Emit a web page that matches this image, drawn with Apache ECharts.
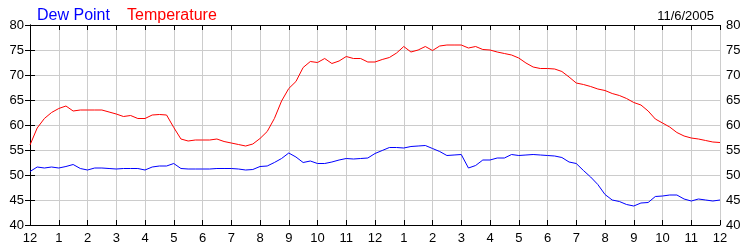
<!DOCTYPE html>
<html><head><meta charset="utf-8">
<script src="https://cdn.jsdelivr.net/npm/echarts@6/dist/echarts.min.js"></script>
<style>html,body{margin:0;padding:0;background:#fff}#c{width:750px;height:250px}</style>
</head><body><div id="c"></div>
<script>
// 15-minute samples from midnight to midnight (97 points)
const hourLabels = ['12','1','2','3','4','5','6','7','8','9','10','11','12','1','2','3','4','5','6','7','8','9','10','11','12'];
const temperature = [
  56.0,59.4,61.3,62.5,63.3,63.8,62.8,63.0,63.0,63.0,63.0,62.6,62.2,61.7,61.9,61.3,
  61.3,62.0,62.1,62.0,59.5,57.2,56.8,57.0,57.0,57.0,57.2,56.7,56.4,56.1,55.8,56.2,
  57.3,58.7,61.3,64.8,67.3,68.7,71.5,72.7,72.5,73.3,72.3,72.8,73.7,73.3,73.3,72.6,
  72.6,73.1,73.5,74.4,75.7,74.6,75.0,75.7,74.9,75.8,76.0,76.0,76.0,75.4,75.7,75.1,
  75.0,74.6,74.3,74.0,73.4,72.4,71.6,71.3,71.3,71.2,70.7,69.6,68.4,68.1,67.7,67.2,
  66.9,66.3,65.9,65.3,64.5,64.0,62.8,61.2,60.4,59.6,58.5,57.8,57.4,57.2,56.9,56.6,
  56.5
];
const dewPoint = [
  50.7,51.6,51.4,51.6,51.4,51.7,52.1,51.3,51.0,51.4,51.4,51.3,51.2,51.3,51.3,51.3,
  51.0,51.6,51.8,51.8,52.3,51.3,51.2,51.2,51.2,51.2,51.3,51.3,51.3,51.2,51.0,51.1,
  51.7,51.8,52.5,53.3,54.4,53.6,52.5,52.8,52.3,52.3,52.6,53.0,53.3,53.2,53.3,53.4,
  54.3,54.9,55.5,55.5,55.4,55.7,55.8,55.9,55.3,54.7,53.9,54.0,54.1,51.4,51.9,53.0,
  53.0,53.4,53.4,54.1,53.9,54.0,54.1,54.0,53.9,53.8,53.5,52.6,52.3,50.9,49.6,48.1,
  46.1,45.0,44.7,44.1,43.8,44.4,44.5,45.7,45.8,46.0,46.0,45.2,44.8,45.2,45.0,44.8,
  45.0
];
const dateText = '11/6/2005';

const FONT = 'Liberation Sans, Arial, sans-serif';
const chart = echarts.init(document.getElementById('c'), null, {renderer: 'canvas'});
const pairs = arr => arr.map((v, i) => [i, v]);
const axisLineStyle = {show: true, lineStyle: {color: '#000', width: 1}};
const tickStyle = {show: true, inside: true, length: 5, lineStyle: {color: '#000', width: 1}};
chart.setOption({
  animation: false,
  backgroundColor: '#fff',
  title: [
    {text: 'Dew Point', left: 32, top: 3, textStyle: {color: '#0000ff', fontSize: 16, fontWeight: 'normal', fontFamily: FONT}},
    {text: 'Temperature', left: 122, top: 3, textStyle: {color: '#ff0000', fontSize: 16, fontWeight: 'normal', fontFamily: FONT}},
    {text: dateText, right: 31, top: 5, textStyle: {color: '#000', fontSize: 13, fontWeight: 'normal', fontFamily: FONT}}
  ],
  grid: {left: 30, right: 30, top: 25, bottom: 25, containLabel: false},
  xAxis: [
    {type: 'value', position: 'bottom', min: 0, max: 96, interval: 4,
     axisLine: axisLineStyle, axisTick: tickStyle,
     axisLabel: {color: '#000', fontSize: 13, fontFamily: FONT, margin: 7,
       formatter: v => hourLabels[Math.round(v / 4)]},
     splitLine: {show: true, lineStyle: {color: '#cccccc', width: 1}}},
    {type: 'value', position: 'top', min: 0, max: 96, interval: 4,
     axisLine: axisLineStyle, axisTick: tickStyle,
     axisLabel: {show: false}, splitLine: {show: false}}
  ],
  yAxis: [
    {type: 'value', position: 'left', min: 40, max: 80, interval: 5,
     axisLine: axisLineStyle, axisTick: tickStyle,
     axisLabel: {color: '#000', fontSize: 13, fontFamily: FONT, margin: 6},
     splitLine: {show: true, lineStyle: {color: '#cccccc', width: 1}}},
    {type: 'value', position: 'right', min: 40, max: 80, interval: 5,
     axisLine: axisLineStyle, axisTick: tickStyle,
     axisLabel: {color: '#000', fontSize: 13, fontFamily: FONT, margin: 6},
     splitLine: {show: false}}
  ],
  series: [
    {name: 'Dew Point', type: 'line', data: pairs(dewPoint), showSymbol: false,
     lineStyle: {color: '#0000ff', width: 1}, itemStyle: {color: '#0000ff'}},
    {name: 'Temperature', type: 'line', data: pairs(temperature), showSymbol: false,
     lineStyle: {color: '#ff0000', width: 1}, itemStyle: {color: '#ff0000'}}
  ]
});
</script></body></html>
